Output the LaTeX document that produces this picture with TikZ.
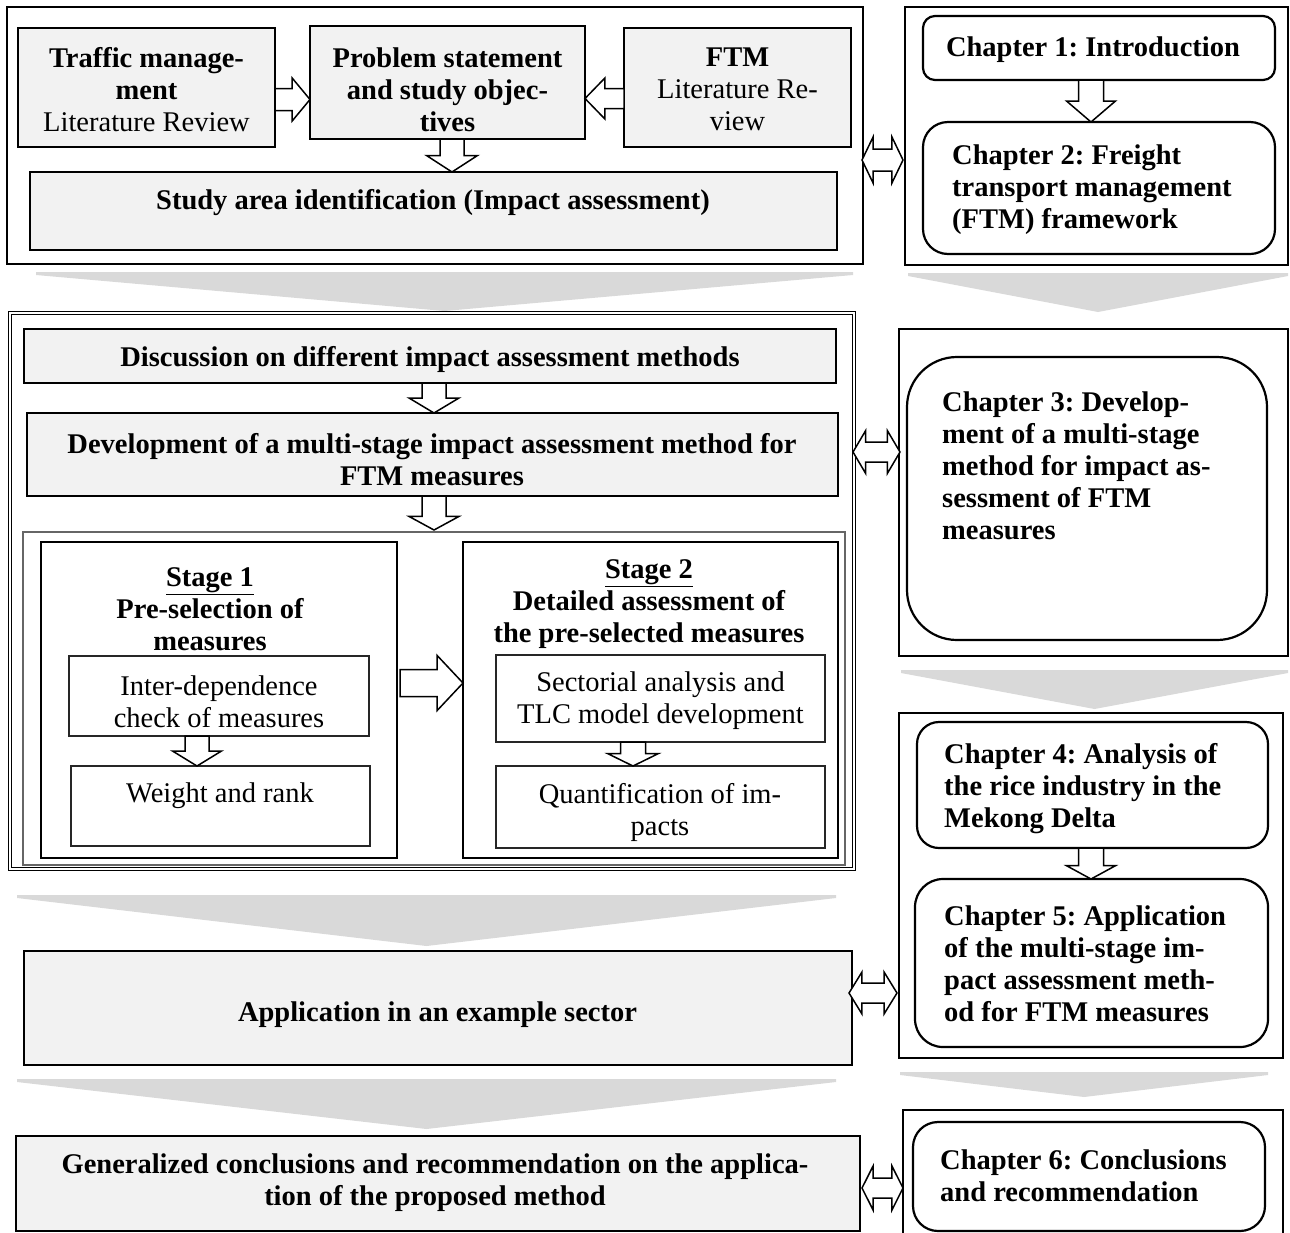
\documentclass[tikz,border=0pt]{standalone}
\usepackage{fontspec}
\setmainfont{Liberation Serif}
\usetikzlibrary{calc}
\frenchspacing

\definecolor{boxfill}{HTML}{F2F2F2}
\definecolor{chevfill}{HTML}{D9D9D9}

\tikzset{
  plainframe/.style={draw=black, line width=1.8pt, fill=white, inner sep=0pt, outer sep=0pt},
  graybox/.style={draw=black, line width=1.8pt, fill=boxfill, inner sep=0pt, outer sep=0pt},
  chapbox/.style={draw=black, line width=2.2pt, fill=white, inner sep=0pt, outer sep=0pt},
  stagebox/.style={draw=black, line width=2.4pt, fill=white, inner sep=0pt, outer sep=0pt},
  subbox/.style={draw=black!85, line width=1.4pt, fill=white, inner sep=0pt, outer sep=0pt},
  stageframe/.style={draw=black!60, line width=1.3pt, fill=white, inner sep=0pt, outer sep=0pt},
  dblframe/.style={draw=black, double=white, double distance=1.8pt, line width=0.9pt, inner sep=0pt, outer sep=0pt},
  barrow/.style={draw=black, fill=white, line width=1.5pt, line join=miter},
  chev/.style={fill=chevfill},
  txt/.style={font=\fontsize{28.5}{32}\selectfont, align=center, inner sep=0pt, yshift=-2.5pt},
  btxt/.style={font=\fontsize{28.5}{32}\selectfont\bfseries, align=center, inner sep=0pt, yshift=-2.5pt},
  ltxt/.style={btxt, align=left, anchor=west},
}

% box node from its corner coordinates (x1,y1) (x2,y2)
\newcommand\rectnode[6][]{%
  \node[#1, minimum width={(#5)-(#3)}, minimum height={(#6)-(#4)}]
    (#2) at ({((#3)+(#5))/2},{((#4)+(#6))/2}) {};}

% hollow block arrow pointing down: start, end, shaft half width, head half width, head base fraction
\newcommand\hollowV[5]{%
  \draw[barrow] let \p1=(#1), \p2=(#2), \n1={(1-#5)*(\y1)+#5*(\y2)} in
    (\x1-#3,\y1) -- (\x1+#3,\y1) -- (\x1+#3,\n1) -- (\x1+#4,\n1) -- (\x1,\y2)
    -- (\x1-#4,\n1) -- (\x1-#3,\n1) -- cycle;}

% hollow block arrow, horizontal
\newcommand\hollowH[5]{%
  \draw[barrow] let \p1=(#1), \p2=(#2), \n1={(1-#5)*(\x1)+#5*(\x2)} in
    (\x1,\y1+#3) -- (\n1,\y1+#3) -- (\n1,\y1+#4) -- (\x2,\y1)
    -- (\n1,\y1-#4) -- (\n1,\y1-#3) -- (\x1,\y1-#3) -- cycle;}

% hollow double-headed block arrow, horizontal
\newcommand\hollowD[4]{%
  \draw[barrow] let \p1=(#1), \p2=(#2), \n1={0.73*(\x1)+0.27*(\x2)}, \n2={0.27*(\x1)+0.73*(\x2)} in
    (\x1,\y1) -- (\n1,\y1+#4) -- (\n1,\y1+#3) -- (\n2,\y1+#3) -- (\n2,\y1+#4) -- (\x2,\y1)
    -- (\n2,\y1-#4) -- (\n2,\y1-#3) -- (\n1,\y1-#3) -- (\n1,\y1-#4) -- cycle;}

% wide flat grey chevron: x left, x right, top y, tip y
\newcommand\graychevron[4]{%
  \fill[chev] (#1,#3) -- (#2,#3) -- (#2,#3+3) -- ({((#1)+(#2))/2},#4) -- (#1,#3+3) -- cycle;}

\begin{document}
\begin{tikzpicture}[x=1pt, y=-1pt]
\useasboundingbox (0,0) rectangle (1290,1232);
\clip (0,0) rectangle (1290,1232);

% grey chevrons between the phases
\graychevron{36}{853}{272}{311}
\graychevron{908}{1288}{273}{312}
\graychevron{901}{1288}{670}{709}
\graychevron{17}{836}{895}{946}
\graychevron{900}{1268}{1072}{1097}
\graychevron{17}{836}{1079}{1129}

% ---------- phase 1 ----------
\rectnode[plainframe]{topL}{7}{7}{863}{264}
\rectnode[graybox]{traffic}{18}{28}{275}{147}
\rectnode[graybox]{problem}{310}{26}{585}{139}
\rectnode[graybox]{ftm}{624}{28}{851}{147}
\rectnode[graybox]{study}{30}{172}{837}{250}

\rectnode[plainframe]{topR}{905}{7}{1288}{265}
\rectnode[chapbox, rounded corners=12pt]{ch1}{923}{16}{1275}{80}
\rectnode[chapbox, rounded corners=25pt]{ch2}{923}{122}{1275}{254}

% ---------- phase 2 ----------
\rectnode[dblframe, fill=white]{midL}{10}{313}{854}{869}
\rectnode[graybox]{disc}{24}{329}{836}{383}
\rectnode[graybox]{dev}{27}{413}{838}{496}
\rectnode[stageframe]{stages}{23}{532}{845}{865}
\rectnode[stagebox]{st1}{41}{542}{397}{858}
\rectnode[stagebox]{st2}{463}{542}{838}{858}
\rectnode[subbox]{inter}{69}{656}{369}{736}
\rectnode[subbox]{weight}{71}{766}{370}{846}
\rectnode[subbox]{sect}{496}{655}{825}{742}
\rectnode[subbox]{quant}{496}{766}{825}{848}

\rectnode[plainframe]{ch3out}{899}{329}{1288}{656}
\rectnode[chapbox, rounded corners=50pt]{ch3}{907}{357}{1267}{640}

% ---------- phase 3 ----------
\rectnode[graybox]{app}{24}{951}{852}{1065}
\rectnode[plainframe]{chBout}{899}{713}{1283}{1058}
\rectnode[chapbox, rounded corners=22pt]{ch4}{917}{722}{1268}{848}
\rectnode[chapbox, rounded corners=28pt]{ch5}{915}{879}{1268}{1047}

% ---------- phase 4 ----------
\rectnode[graybox]{gen}{16}{1136}{860}{1231}
\rectnode[plainframe]{ch6out}{903}{1110}{1283}{1245}
\rectnode[chapbox, rounded corners=25pt]{ch6}{913}{1122}{1265}{1231}

% ---------- block arrows ----------
\hollowH{$(traffic.east)+(0,12)$}{$(problem.west)+(0,17)$}{11}{21.5}{0.49}
\hollowH{$(ftm.west)+(0,11)$}{$(problem.east)+(0,16)$}{10}{20.5}{0.49}
\hollowV{$(problem.south)+(4.5,0)$}{study.north}{12}{25.5}{0.5}
\hollowV{$(ch1.south)+(-8,0)$}{ch2.north}{12.5}{24.5}{0.5}
\hollowV{$(disc.south)+(4,0)$}{dev.north}{12}{25}{0.5}
\hollowV{$(dev.south)+(1.5,0)$}{$(stages.north)+(0,-2)$}{12}{25}{0.6}
\hollowV{$(inter.south)+(-22,0)$}{weight.north}{12}{24.5}{0.5}
\hollowV{$(sect.south)+(-27.5,0)$}{quant.north}{12.5}{25.5}{0.48}
\hollowH{$(st1.east)+(3,-17)$}{$(st2.west)+(0,-17)$}{13.5}{27.5}{0.59}
\hollowV{$(ch4.south)+(-1.5,0)$}{ch5.north}{12.5}{24.5}{0.57}

\hollowD{$(topL.east)+(-1,24.5)$}{$(topR.west)+(-2,24)$}{11}{23}
\hollowD{$(midL.east)+(-1,-139)$}{$(ch3out.west)+(1,-40.5)$}{10}{21.5}
\hollowD{$(app.east)+(-3,-15)$}{$(chBout.west)+(-2,107.5)$}{10}{21}
\hollowD{$(gen.east)+(2,4.5)$}{$(ch6out.west)+(0,10.5)$}{10}{22}

% ---------- texts ----------
\node[txt] (trafficT) at (146.5,87) {\textbf{Traffic manage-}\\\textbf{ment}\\Literature Review};
\node[btxt] (problemT) at (447.5,87) {Problem statement\\and study objec-\\tives};
\node[txt] (ftmT) at (737.5,87) {\textbf{FTM}\\Literature Re-\\view};
\node[btxt] (studyT) at (433,200) {Study area identification (Impact assessment)};

\node[btxt] (ch1T) at (1093,47) {Chapter 1: Introduction};
\node[ltxt] (ch2T) at (952,187) {Chapter 2: Freight\\transport management\\(FTM) framework};

\node[btxt] (discT) at (430,357) {Discussion on different impact assessment methods};
\node[btxt] (devT) at (432,457.5) {Development of a multi-stage impact assessment method for\\FTM measures};

\node[btxt] (st1T) at (210,607) {\underline{Stage 1}\\Pre-selection of\\measures};
\node[btxt] (st2T) at (649,602) {\underline{Stage 2}\\Detailed assessment of\\the pre-selected measures};
\node[txt] (interT) at (219,699) {Inter-dependence\\check of measures};
\node[txt] (weightT) at (220,793) {Weight and rank};
\node[txt] (sectT) at (660.5,698.5) {Sectorial analysis and\\TLC model development};
\node[txt] (quantT) at (660,809.5) {Quantification of im-\\pacts};

\node[ltxt] (ch3T) at (942,463.5) {Chapter 3: Develop-\\ment of a multi-stage\\method for impact as-\\sessment of FTM\\measures};

\node[btxt] (appT) at (437.5,1012) {Application in an example sector};
\node[ltxt] (ch4T) at (944,786) {Chapter 4: Analysis of\\the rice industry in the\\Mekong Delta};
\node[ltxt] (ch5T) at (944,961.5) {Chapter 5: Application\\of the multi-stage im-\\pact assessment meth-\\od for FTM measures};

\node[btxt] (genT) at (435,1180) {Generalized conclusions and recommendation on the applica-\\tion of the proposed method};
\node[ltxt] (ch6T) at (940,1173) {Chapter 6: Conclusions\\and recommendation};
\end{tikzpicture}
\end{document}
